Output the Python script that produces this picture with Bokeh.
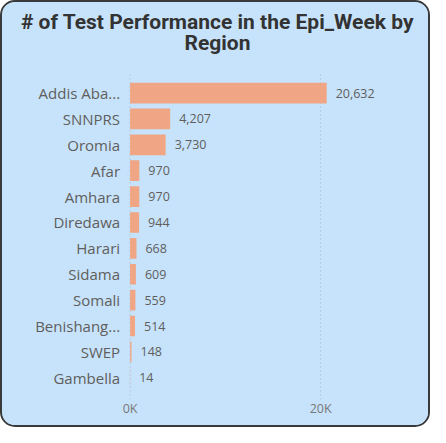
from bokeh.plotting import figure
from bokeh.models import Range1d, ColumnDataSource, FixedTicker, CustomJSTickFormatter, Label
from bokeh.embed import file_html
from bokeh.resources import INLINE
from bokeh.core.properties import value

regions = ["Addis Aba...", "SNNPRS", "Oromia", "Afar", "Amhara", "Diredawa",
           "Harari", "Sidama", "Somali", "Benishang...", "SWEP", "Gambella"]
tests = [20632, 4207, 3730, 970, 970, 944, 668, 609, 559, 514, 148, 14]
value_labels = ["20,632", "4,207", "3,730", "970", "970", "944", "668", "609", "559", "514", "148", "14"]
x_ticks = [0, 20000]
title_lines = ["# of Test Performance in the Epi_Week by", "Region"]

BG = "#C7E3FB"
BAR = "#F0A684"
TXT = "#605E5C"

n = len(regions)
ypos = [n - 1 - i for i in range(n)]   # first region at the top

src = ColumnDataSource(dict(region=regions, tests=tests, lab=value_labels,
                            y=ypos, zero=[0] * n))

W, H = 430, 427
p = figure(x_range=Range1d(-13390, 31737), y_range=Range1d(-0.84, 14.5),
           width=W, height=H, title=None,
           min_border_left=0, min_border_right=0, min_border_top=0, min_border_bottom=30,
           output_backend="svg", toolbar_location=None)
p.styles = {"border": "2px solid #3a3a3a", "border-radius": "15px",
            "overflow": "hidden", "background-color": BG}

p.background_fill_color = BG
p.border_fill_color = BG
p.outline_line_color = None

# dotted vertical grid lines at the x ticks, spanning the bar area
grid_src = ColumnDataSource(dict(x=x_ticks, y0=[-0.84] * len(x_ticks),
                                 y1=[n - 1 + 0.79] * len(x_ticks)))
p.segment(x0="x", x1="x", y0="y0", y1="y1", source=grid_src,
          line_color="#a3b4c6", line_dash="1 3", line_width=1)

p.hbar(y="y", right="tests", left=0, height=0.8, source=src,
       fill_color=BAR, line_color=None)

p.text(x="tests", y="y", text="lab", source=src, x_offset=9,
       text_baseline="middle", text_align="left", text_font=value("Open Sans"),
       text_font_size="12.5px", text_color=TXT)

p.text(x="zero", y="y", text="region", source=src, x_offset=-10,
       text_baseline="middle", text_align="right", text_font=value("Open Sans"),
       text_font_size="15px", text_color=TXT)

p.xgrid.grid_line_color = None
p.ygrid.grid_line_color = None

p.xaxis.ticker = FixedTicker(ticks=x_ticks)
p.xaxis.formatter = CustomJSTickFormatter(code="return (tick/1000).toFixed(0) + 'K';")
p.xaxis.axis_line_color = None
p.xaxis.major_tick_line_color = None
p.xaxis.minor_tick_line_color = None
p.xaxis.major_tick_out = 0
p.xaxis.major_tick_in = 0
p.xaxis.major_label_text_font = "Open Sans"
p.xaxis.major_label_text_font_size = "12.5px"
p.xaxis.major_label_text_color = "#777777"
p.xaxis.major_label_standoff = 0

p.yaxis.visible = False

for i, t in enumerate(title_lines):
    p.add_layout(Label(x=W / 2, y=378 - 21.4 * i, x_units="screen", y_units="screen",
                       text=t, text_align="center", text_baseline="middle",
                       text_font="Roboto", text_font_style="bold",
                       text_font_size="21px", text_color="#333333"))

open("out.html", "w").write(file_html(p, INLINE))
